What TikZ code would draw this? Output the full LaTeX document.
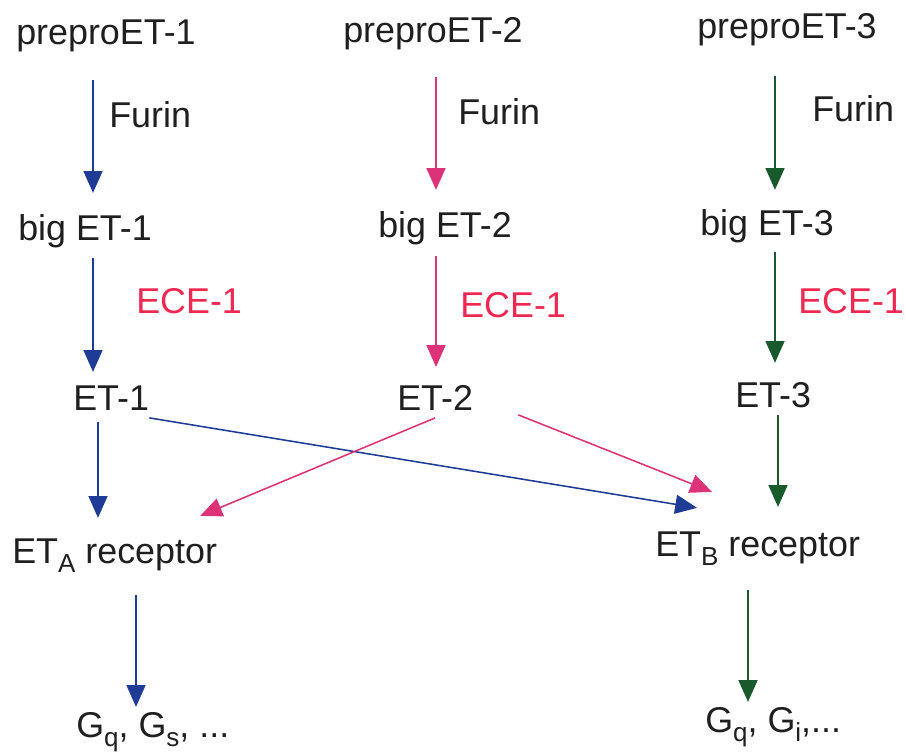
\documentclass[tikz,border=0pt]{standalone}
\usepackage{fontspec}
\setmainfont{Liberation Sans}
\usetikzlibrary{arrows.meta}
\definecolor{etblue}{RGB}{30,60,150}
\definecolor{etpink}{RGB}{220,50,120}
\definecolor{etgreen}{RGB}{25,90,45}
\definecolor{ecered}{RGB}{238,40,80}
\newcommand{\lowsub}[1]{\raisebox{-7pt}{\fontsize{18.5pt}{18.5pt}\selectfont #1}}

\begin{document}
\begin{tikzpicture}[x=0.025cm,y=-0.025cm,
        lbl/.style={anchor=base west,inner sep=0pt,text height=18.4pt,text depth=5.4pt,
            font=\fontsize{25.5pt}{30pt}\selectfont,text=black!88},
        enz/.style={lbl,text=ecered},
        blu/.style={draw=etblue,line width=1.1pt,-{Triangle[length=15.5pt,width=13.5pt,fill=etblue]}},
        pnk/.style={draw=etpink,line width=1.1pt,-{Triangle[length=15.5pt,width=13.5pt,fill=etpink]}},
        grn/.style={draw=etgreen,line width=1.1pt,-{Triangle[length=15.5pt,width=13.5pt,fill=etgreen]}}]
            \useasboundingbox (0,0) rectangle (906,755);
            \node[lbl] at (16,45) (pre1) {preproET-1};
            \node[lbl] at (343,43) (pre2) {preproET-2};
            \node[lbl] at (697,39) (pre3) {preproET-3};
            \node[lbl] at (109,128) (fur1) {Furin};
            \node[lbl] at (458,125) (fur2) {Furin};
            \node[lbl] at (812,122) (fur3) {Furin};
            \node[lbl] at (18,240) (big1) {big ET-1};
            \node[lbl] at (378,237) (big2) {big ET-2};
            \node[lbl] at (700,235) (big3) {big ET-3};
            \node[enz] at (136,313) (ece1) {ECE-1};
            \node[enz] at (460,317) (ece2) {ECE-1};
            \node[enz] at (798,313) (ece3) {ECE-1};
            \node[lbl] at (73,410) (et1) {ET-1};
            \node[lbl] at (397,410) (et2) {ET-2};
            \node[lbl] at (735,407) (et3) {ET-3};
            \node[lbl] at (12,563) (etA) {ET\lowsub{A} receptor};
            \node[lbl] at (655,556) (etB) {ET\lowsub{B} receptor};
            \node[lbl] at (76,737) (gA) {G\lowsub{q}, G\lowsub{s}, ...};
            \node[lbl] at (705,732) (gB) {G\lowsub{q}, G\lowsub{i},...};
            \coordinate (k1) at (93,0);
            \coordinate (k1b) at (98,0);
            \coordinate (k1c) at (136,0);
            \coordinate (k2) at (436,0);
            \coordinate (k3) at (775,0);
            \coordinate (k3b) at (778,0);
            \coordinate (k3c) at (748,0);
            \draw[blu,shorten <=19.4pt,shorten >=14.9pt] (pre1.south -| k1) -- (big1.north -| k1);
            \draw[blu,shorten <=7.4pt,shorten >=8.5pt] (big1.south -| k1) -- (et1.north -| k1);
            \draw[blu,shorten <=3.1pt,shorten >=13.5pt] (et1.south -| k1b) -- (etA.north -| k1b);
            \draw[blu,shorten <=17.3pt,shorten >=2.8pt] (etA.south -| k1c) -- (gA.north -| k1c);
            \draw[pnk,shorten <=18.7pt,shorten >=14.9pt] (pre2.south -| k2) -- (big2.north -| k2);
            \draw[pnk,shorten <=8.1pt,shorten >=12pt] (big2.south -| k2) -- (et2.north -| k2);
            \draw[grn,shorten <=20.8pt,shorten >=13.5pt] (pre3.south -| k3) -- (big3.north -| k3);
            \draw[grn,shorten <=6.7pt,shorten >=12.8pt] (big3.south -| k3) -- (et3.north -| k3);
            \draw[grn,shorten >=16.3pt] (et3.south -| k3b) -- (etB.north -| k3b);
            \draw[grn,shorten <=18.7pt,shorten >=2.8pt] (etB.south -| k3c) -- (gB.north -| k3c);
            \draw[blu] (et1.south east) -- ([shift={(42,-22)}]etB.north west);
            \draw[pnk] (et2.south) -- ([shift={(-17,-21)}]etA.north east);
            \draw[pnk] ([shift={(45,-3)}]et2.south east) -- ([shift={(57,-38)}]etB.north west);
        \end{tikzpicture}
\end{document}
